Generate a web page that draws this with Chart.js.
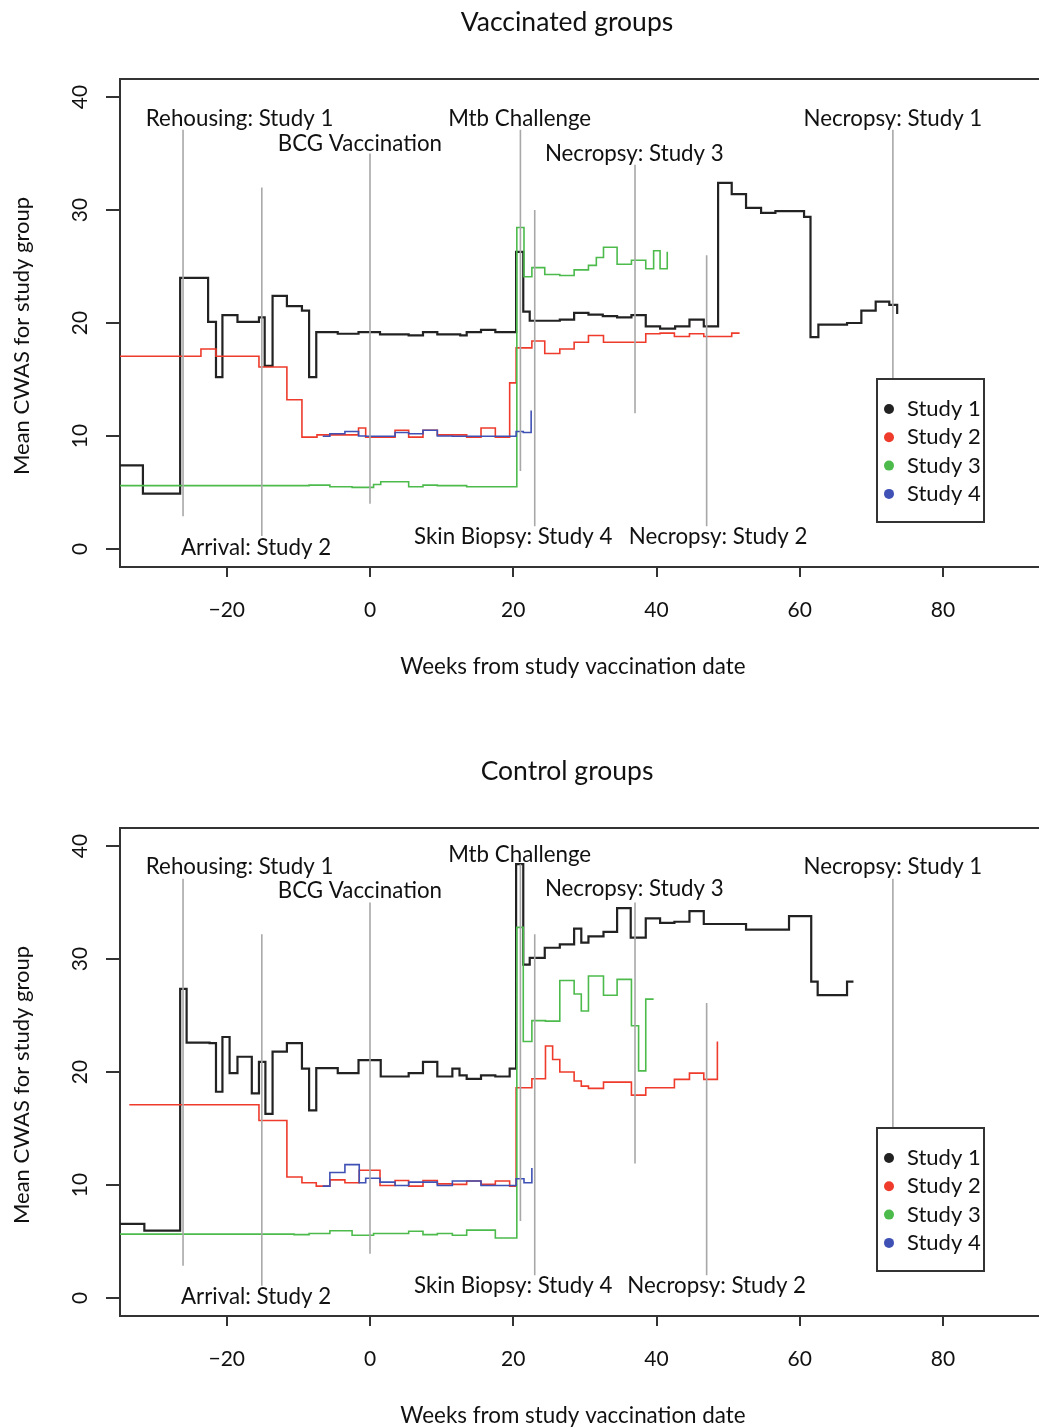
<!DOCTYPE html>
<html>
<head>
<meta charset="utf-8">
<script src="https://cdn.jsdelivr.net/npm/chart.js@4.4.0/dist/chart.umd.min.js"></script>
<style>
  body { margin: 0; background: #fff; }
  #wrap { position: relative; width: 1039px; height: 1428px; overflow: hidden; }
  canvas { position: absolute; left: 0; }
</style>
</head>
<body>
<div id="wrap">
  <canvas id="vacChart" width="1039" height="749" style="top:0"></canvas>
  <canvas id="ctlChart" width="1039" height="679" style="top:749px"></canvas>
</div>
<script>
// ---------------- data ----------------
const studyNames = ["Study 1", "Study 2", "Study 3", "Study 4"];
const weekTicks = [-20, 0, 20, 40, 60, 80];
const cwasTicks = [0, 10, 20, 30, 40];

// Vaccinated groups: step start week / mean CWAS for that step
const vacWeeks1 = [-34.9, -31.7, -26.5, -22.6, -21.5, -20.6, -18.5, -15.5, -14.7, -13.6, -11.6, -9.5, -8.5, -7.5, -4.5, -1.6, 1.4, 5.4, 7.4, 9.4, 12.6, 13.5, 15.5, 17.5, 20.4, 21.4, 22.3, 26.5, 28.5, 30.5, 32.5, 34.5, 36.5, 38.5, 40.5, 42.6, 44.6, 46.6, 48.6, 50.5, 52.5, 54.6, 56.6, 60.6, 61.5, 62.6, 66.6, 68.6, 70.6, 72.5, 73.6];
const vacCwas1  = [7.4, 4.9, 24.0, 20.1, 15.2, 20.7, 20.1, 20.5, 16.2, 22.4, 21.5, 21.1, 15.2, 19.2, 19.05, 19.2, 19.0, 18.9, 19.2, 19.0, 18.9, 19.2, 19.4, 19.2, 26.3, 21.0, 20.2, 20.3, 20.9, 20.75, 20.6, 20.5, 20.7, 19.7, 19.5, 19.7, 20.3, 19.7, 32.4, 31.4, 30.2, 29.75, 29.9, 29.4, 18.75, 19.85, 20.0, 21.1, 21.9, 21.6, 20.8];

const vacWeeks2 = [-34.9, -23.6, -21.5, -15.5, -11.6, -9.5, -7.4, -1.6, -0.6, 3.5, 5.4, 7.4, 9.4, 13.5, 15.5, 17.5, 19.5, 20.4, 22.6, 24.4, 26.5, 28.5, 30.5, 32.6, 38.5, 40.5, 42.5, 44.6, 46.6, 50.5, 51.6];
const vacCwas2  = [17.06, 17.7, 17.06, 16.1, 13.2, 9.9, 10.1, 10.7, 9.9, 10.5, 9.9, 10.5, 10.1, 9.9, 10.7, 9.9, 14.7, 17.8, 18.4, 17.3, 17.7, 18.3, 18.9, 18.3, 19.05, 19.1, 18.8, 19.05, 18.8, 19.1, 19.1];

const vacWeeks3 = [-34.9, -8.5, -5.6, -2.5, 0.5, 1.5, 5.4, 7.4, 9.4, 13.5, 20.5, 21.5, 22.6, 24.4, 26.5, 28.5, 30.5, 31.6, 32.6, 34.5, 36.5, 38.5, 39.6, 40.5, 41.5];
const vacCwas3  = [5.6, 5.65, 5.5, 5.45, 5.7, 5.95, 5.5, 5.65, 5.6, 5.5, 28.45, 24.1, 24.9, 24.3, 24.2, 24.7, 25.1, 25.8, 26.7, 25.2, 25.55, 24.8, 26.4, 24.8, 26.3];

const vacWeeks4 = [-6.6, -5.6, -3.5, -1.6, -0.6, 3.5, 5.4, 7.4, 9.4, 11.5, 20.4, 21.4, 22.5];
const vacCwas4  = [9.97, 10.2, 10.4, 10.0, 9.97, 10.3, 10.2, 10.5, 10.0, 9.97, 10.4, 10.3, 12.25];

// Control groups
const ctlWeeks1 = [-34.9, -31.5, -26.5, -25.6, -22.4, -21.5, -20.6, -19.6, -18.5, -16.5, -15.5, -14.6, -13.6, -11.6, -9.5, -8.5, -7.5, -4.5, -1.6, 1.5, 5.4, 7.4, 9.4, 11.5, 12.5, 13.5, 15.5, 17.5, 19.5, 20.4, 21.4, 22.3, 24.4, 26.5, 28.5, 29.5, 30.5, 32.6, 34.5, 36.4, 38.5, 40.5, 42.5, 44.6, 46.6, 52.5, 58.5, 61.6, 62.5, 66.6, 67.5];
const ctlCwas1  = [6.55, 5.95, 27.35, 22.6, 22.55, 18.25, 23.1, 19.9, 21.35, 18.1, 20.9, 16.3, 21.8, 22.55, 20.3, 16.6, 20.35, 19.9, 21.05, 19.6, 19.9, 20.9, 19.6, 20.3, 19.7, 19.4, 19.7, 19.6, 20.3, 38.4, 29.5, 30.1, 31.0, 31.3, 32.7, 31.45, 32.0, 32.4, 34.5, 31.9, 33.6, 33.2, 33.3, 34.25, 33.1, 32.6, 33.8, 28.0, 26.8, 28.0, 28.0];

const ctlWeeks2 = [-33.6, -15.5, -11.6, -9.5, -7.5, -5.6, -3.5, -1.5, 1.4, 3.5, 5.4, 7.4, 9.4, 11.5, 13.5, 15.5, 17.5, 19.5, 20.4, 22.6, 24.5, 25.5, 26.5, 28.5, 29.5, 30.5, 32.6, 36.5, 38.5, 42.5, 44.6, 46.6, 48.5];
const ctlCwas2  = [17.1, 15.7, 10.7, 10.2, 9.9, 10.45, 10.2, 11.3, 9.95, 10.4, 9.9, 10.4, 10.1, 10.05, 10.35, 10.05, 10.35, 9.9, 18.6, 19.4, 22.3, 21.1, 20.0, 19.2, 18.75, 18.55, 19.1, 17.95, 18.6, 19.35, 19.9, 19.35, 22.7];

const ctlWeeks3 = [-34.9, -10.6, -8.5, -5.6, -2.5, 0.5, 5.4, 7.4, 9.4, 11.5, 13.5, 17.5, 20.5, 21.4, 22.6, 24.5, 26.5, 28.5, 29.5, 30.5, 32.6, 34.5, 36.5, 37.5, 38.5, 39.6];
const ctlCwas3  = [5.65, 5.6, 5.7, 5.95, 5.55, 5.7, 5.9, 5.6, 5.7, 5.55, 6.0, 5.3, 32.8, 22.7, 24.55, 24.5, 28.1, 26.9, 25.4, 28.5, 26.8, 28.2, 24.1, 20.1, 26.45, 26.45];

const ctlWeeks4 = [-6.6, -5.6, -3.5, -1.5, -0.6, 1.4, 3.5, 5.4, 9.4, 11.5, 15.5, 20.4, 21.5, 22.6];
const ctlCwas4  = [9.9, 11.1, 11.8, 10.2, 10.6, 10.25, 9.95, 10.25, 9.95, 10.35, 9.95, 10.55, 10.2, 11.5];

// study events (vertical reference lines)
const eventNames = ["Rehousing: Study 1", "Arrival: Study 2", "BCG Vaccination", "Mtb Challenge", "Skin Biopsy: Study 4", "Necropsy: Study 3", "Necropsy: Study 2", "Necropsy: Study 1"];
const eventWeeks = [-26.1, -15.1, 0, 21, 23, 37, 47, 73];
const vacEventFrom = [2.9, 1.15, 4.0, 6.9, 2.0, 12.0, 2.0, 14.9];
const vacEventTo   = [37.1, 32.0, 35.0, 37.1, 30.0, 34.0, 26.0, 37.1];
const ctlEventFrom = [2.85, 1.07, 3.9, 6.8, 2.0, 11.9, 2.0, 15.0];
const ctlEventTo   = [37.1, 32.2, 35.0, 38.4, 32.2, 35.0, 26.1, 37.1];

// ---------------- layout / style ----------------
const FONT = "Lato, 'Open Sans', sans-serif";
const TEXT = "#111";
const studyColors = ["#222222", "#ee3b2b", "#4cbb4c", "#3f51b5"];
const studyWidths = [2.2, 1.6, 1.6, 1.6];
// label anchor (week, cwas) for each event, per panel
const vacLabelAt = [[-18.2, 38.1], [-15.9, 0.1], [-1.4, 35.9], [20.9, 38.1], [20.0, 1.06], [36.9, 35.0], [48.6, 1.06], [73.0, 38.1]];
const ctlLabelAt = [[-18.2, 38.2], [-15.9, 0.1], [-1.4, 36.0], [20.9, 39.2], [20.0, 1.07], [36.9, 36.2], [48.4, 1.07], [73.0, 38.2]];

const BOX_TOP = 79, BOX_BOTTOM = 567, BOX_LEFT = 120;

function toPoints(xs, ys) {
  return xs.map((x, i) => ({ x: x, y: ys[i] }));
}

// draws the frame top edge, rotated y labels, titles, event labels and legend
const decorPlugin = {
  id: "decor",
  afterDraw(chart, args, opts) {
    const ctx = chart.ctx;
    const area = chart.chartArea;
    const xs = chart.scales.x, ys = chart.scales.y;
    ctx.save();

    // top edge of frame
    ctx.strokeStyle = "#333";
    ctx.lineWidth = 2;
    ctx.beginPath();
    ctx.moveTo(area.left - 1, area.top);
    ctx.lineTo(area.right, area.top);
    ctx.stroke();

    ctx.fillStyle = TEXT;
    ctx.textAlign = "center";
    ctx.textBaseline = "middle";

    // y tick labels, parallel to the axis
    ctx.font = "21px " + FONT;
    cwasTicks.forEach(v => {
      ctx.save();
      ctx.translate(80, ys.getPixelForValue(v));
      ctx.rotate(-Math.PI / 2);
      ctx.fillText(String(v), 0, 0);
      ctx.restore();
    });

    // y axis title
    ctx.font = "22px " + FONT;
    ctx.save();
    ctx.translate(22, 336);
    ctx.rotate(-Math.PI / 2);
    ctx.fillText("Mean CWAS for study group", 0, 0);
    ctx.restore();

    // main title and x title
    ctx.font = "26.5px " + FONT;
    ctx.fillText(opts.title, 567, 22);
    ctx.font = "22.4px " + FONT;
    ctx.fillText("Weeks from study vaccination date", 573, 667);

    // event labels
    ctx.font = "22.3px " + FONT;
    eventNames.forEach((name, i) => {
      const at = opts.labelAt[i];
      ctx.fillText(name, xs.getPixelForValue(at[0]), ys.getPixelForValue(at[1]));
    });

    // legend
    const lx = 877, ly = 379, lw = 107, lh = 143;
    ctx.fillStyle = "#fff";
    ctx.fillRect(lx, ly, lw, lh);
    ctx.strokeStyle = "#333";
    ctx.lineWidth = 2;
    ctx.strokeRect(lx, ly, lw, lh);
    ctx.textAlign = "left";
    ctx.font = "22px " + FONT;
    studyNames.forEach((name, i) => {
      const cy = ly + 30 + i * 28.3;
      ctx.fillStyle = studyColors[i];
      ctx.beginPath();
      ctx.arc(lx + 12, cy, 5, 0, Math.PI * 2);
      ctx.fill();
      ctx.fillStyle = TEXT;
      ctx.fillText(name, lx + 30, cy);
    });
    ctx.restore();
  }
};

function makeChart(canvasId, title, weeks, cwas, evFrom, evTo, labelAt) {
  const canvas = document.getElementById(canvasId);
  const H = canvas.height;
  const datasets = [];

  // later studies are drawn over earlier ones (lower order = on top)
  studyNames.forEach((name, i) => {
    datasets.push({
      label: name,
      data: toPoints(weeks[i], cwas[i]),
      stepped: "before",
      borderColor: studyColors[i],
      borderWidth: studyWidths[i],
      pointRadius: 0,
      fill: false,
      order: studyNames.length - i
    });
  });

  eventNames.forEach((name, i) => {
    datasets.push({
      label: name,
      data: [{ x: eventWeeks[i], y: evFrom[i] }, { x: eventWeeks[i], y: evTo[i] }],
      borderColor: "#a8a8a8",
      borderWidth: 1.6,
      pointRadius: 0,
      fill: false,
      order: 0
    });
  });

  return new Chart(canvas, {
    type: "line",
    data: { datasets: datasets },
    options: {
      responsive: false,
      animation: false,
      devicePixelRatio: 1,
      layout: { padding: { top: BOX_TOP, left: 0, right: 0, bottom: 0 } },
      scales: {
        x: {
          type: "linear",
          min: -34.9,
          max: 93.4,
          afterBuildTicks: s => { s.ticks = weekTicks.map(v => ({ value: v })); },
          afterFit: s => { s.height = H - BOX_BOTTOM; },
          ticks: {
            color: TEXT,
            font: { family: FONT, size: 21 },
            padding: 21,
            maxRotation: 0,
            callback: v => (v < 0 ? "\u2212" + Math.abs(v) : String(v))
          },
          grid: { drawOnChartArea: false, drawTicks: true, tickLength: 10, color: "#333", lineWidth: 2 },
          border: { display: true, color: "#333", width: 2 }
        },
        y: {
          type: "linear",
          min: -1.6,
          max: 41.6,
          afterBuildTicks: s => { s.ticks = cwasTicks.map(v => ({ value: v })); },
          afterFit: s => { s.width = BOX_LEFT; },
          ticks: { display: false },
          grid: { drawOnChartArea: false, drawTicks: true, tickLength: 14, color: "#333", lineWidth: 2 },
          border: { display: true, color: "#333", width: 2 }
        }
      },
      plugins: {
        legend: { display: false },
        tooltip: { enabled: false },
        decor: { title: title, labelAt: labelAt }
      }
    },
    plugins: [decorPlugin]
  });
}

makeChart("vacChart", "Vaccinated groups",
  [vacWeeks1, vacWeeks2, vacWeeks3, vacWeeks4],
  [vacCwas1, vacCwas2, vacCwas3, vacCwas4],
  vacEventFrom, vacEventTo, vacLabelAt);

makeChart("ctlChart", "Control groups",
  [ctlWeeks1, ctlWeeks2, ctlWeeks3, ctlWeeks4],
  [ctlCwas1, ctlCwas2, ctlCwas3, ctlCwas4],
  ctlEventFrom, ctlEventTo, ctlLabelAt);
</script>
</body>
</html>
